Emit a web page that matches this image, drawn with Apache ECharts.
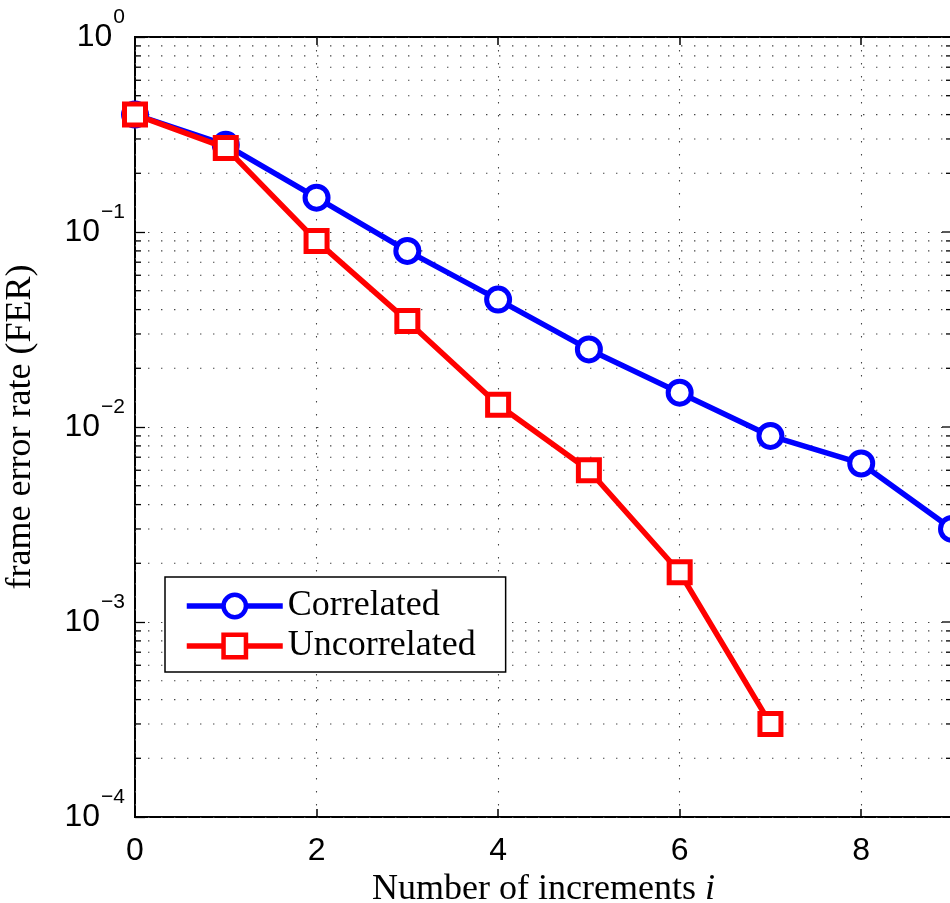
<!DOCTYPE html>
<html>
<head>
<meta charset="utf-8">
<script src="https://cdn.jsdelivr.net/npm/echarts@6/dist/echarts.min.js"></script>
<style>
    html, body {margin: 0; padding: 0; background: #fff; overflow: hidden;}
    #chart {width: 952px; height: 903px;}
</style>
</head>
<body>
<div id="chart"></div>
<script>
// data
const increments = [0, 1, 2, 3, 4, 5, 6, 7, 8, 9]
const correlated = [0.4, 0.28, 0.15, 0.08, 0.045, 0.025, 0.015, 0.009, 0.0065, 0.003]
const uncorrelated = [0.4, 0.27, 0.09, 0.035, 0.013, 0.006, 0.0018, 0.0003]
const xTicks = [0, 2, 4, 6, 8]
const decades = [-4, -3, -2, -1]

const X_MIN = 0, X_MAX = 9
const Y_MIN = 1e-4, Y_MAX = 1

// minor log positions 2..9 inside each decade (grid + ticks only)
const minorVals = []
decades.forEach(d => {
    for (let k = 2; k <= 9; k++) {
        minorVals.push(k * Math.pow(10, d))
    }
})
const majorInner = [1e-3, 1e-2, 1e-1]

const sansFont = '"Liberation Sans", Arial, sans-serif'
const serifFont = '"Liberation Serif", "Times New Roman", serif'
const dotted = {type: [1.4, 11.6], color: '#444', width: 1.1}

const chart = echarts.init(document.getElementById('chart'))

function pair(xs, ys) {
    return ys.map((v, i) => [xs[i], v])
}

// dotted minor grid lines with small inward ticks at both sides
function renderMinor(params, api) {
    const v = api.value(1)
    const p0 = api.coord([X_MIN, v])
    const p1 = api.coord([X_MAX, v])
    const isMajor = api.value(2) === 1
    const tick = isMajor ? 10 : 6
    const children = [
        {
            type: 'line',
            shape: {x1: p1[0], y1: p1[1], x2: p1[0] - tick, y2: p1[1]},
            style: {stroke: '#000', lineWidth: 1.3}
        }
    ]
    if (!isMajor) {
        children.push({
            type: 'line',
            shape: {x1: p0[0], y1: p0[1], x2: p1[0], y2: p1[1]},
            style: {stroke: dotted.color, lineWidth: dotted.width, lineDash: dotted.type}
        })
        children.push({
            type: 'line',
            shape: {x1: p0[0], y1: p0[1], x2: p0[0] + tick, y2: p0[1]},
            style: {stroke: '#000', lineWidth: 1.3}
        })
    }
    return {type: 'group', children: children}
}

const gridData = minorVals.map(v => [0, v, 0]).concat(majorInner.map(v => [0, v, 1]))

const option = {
    backgroundColor: '#fff',
    animation: false,
    grid: {
        left: 135,
        right: 0,
        top: 37,
        bottom: 86,
        outerBoundsMode: 'none',
        containLabel: false,
        show: true,
        borderColor: '#000',
        borderWidth: 2,
        backgroundColor: 'transparent'
    },
    legend: {
        data: ['Correlated', 'Uncorrelated'],
        orient: 'vertical',
        left: 165,
        top: 577,
        padding: [11, 30, 8, 19],
        itemGap: 4,
        itemWidth: 96,
        itemHeight: 28,
        itemTextGap: 12,
        backgroundColor: '#fff',
        borderColor: '#000',
        borderWidth: 1.5,
        borderRadius: 0,
        lineStyle: {width: 5.5},
        itemStyle: {borderWidth: 4.5},
        textStyle: {
            fontFamily: serifFont,
            fontSize: 36,
            color: '#000',
            lineHeight: 34
        }
    },
    xAxis: [
        {
            type: 'value',
            min: X_MIN,
            max: X_MAX,
            interval: 2,
            name: 'Number of increments {i|i}',
            nameLocation: 'middle',
            nameGap: 48,
            nameTextStyle: {
                fontFamily: serifFont,
                fontSize: 36,
                color: '#000',
                rich: {
                    i: {fontFamily: serifFont, fontSize: 36, fontStyle: 'italic', color: '#000'}
                }
            },
            axisLine: {show: false},
            axisTick: {show: true, inside: true, length: 8, lineStyle: {color: '#000', width: 1.5}},
            axisLabel: {
                fontFamily: sansFont,
                fontSize: 32,
                color: '#000',
                margin: 18,
                showMaxLabel: false,
                formatter: v => xTicks.indexOf(v) >= 0 ? String(v) : ''
            },
            splitLine: {show: true, lineStyle: dotted}
        },
        {
            type: 'value',
            position: 'top',
            min: X_MIN,
            max: X_MAX,
            interval: 2,
            axisLine: {show: false},
            axisTick: {show: true, inside: true, length: 8, lineStyle: {color: '#000', width: 1.5}},
            axisLabel: {show: false},
            splitLine: {show: false}
        }
    ],
    yAxis: {
        type: 'log',
        logBase: 10,
        min: Y_MIN,
        max: Y_MAX,
        name: 'frame error rate (FER)',
        nameLocation: 'middle',
        nameGap: 96,
        nameTextStyle: {
            fontFamily: serifFont,
            fontSize: 36,
            color: '#000'
        },
        axisLine: {show: false},
        axisTick: {show: true, inside: true, length: 10, lineStyle: {color: '#000', width: 1.3}},
        axisLabel: {
            margin: 10,
            formatter: v => {
                const e = Math.round(Math.log10(v))
                return '{b|10}{e|' + (e < 0 ? '\u2212' + (-e) : e) + '}'
            },
            rich: {
                b: {fontFamily: sansFont, fontSize: 32, color: '#000'},
                e: {fontFamily: sansFont, fontSize: 21, color: '#000', padding: [0, 0, 40, 1]}
            }
        },
        splitLine: {show: true, lineStyle: dotted}
    },
    series: [
        {
            type: 'custom',
            name: 'grid',
            silent: true,
            z: 1,
            clip: false,
            renderItem: renderMinor,
            encode: {x: 0, y: 1},
            data: gridData
        },
        {
            name: 'Correlated',
            type: 'line',
            z: 3,
            data: pair(increments, correlated),
            symbol: 'circle',
            symbolSize: 23,
            color: '#0000ff',
            lineStyle: {width: 5.5, color: '#0000ff'},
            itemStyle: {color: '#fff', borderColor: '#0000ff', borderWidth: 5}
        },
        {
            name: 'Uncorrelated',
            type: 'line',
            z: 4,
            data: pair(increments, uncorrelated),
            symbol: 'rect',
            symbolSize: 21,
            color: '#ff0000',
            lineStyle: {width: 5.5, color: '#ff0000'},
            itemStyle: {color: '#fff', borderColor: '#ff0000', borderWidth: 5}
        }
    ]
}

chart.setOption(option)
</script>
</body>
</html>
